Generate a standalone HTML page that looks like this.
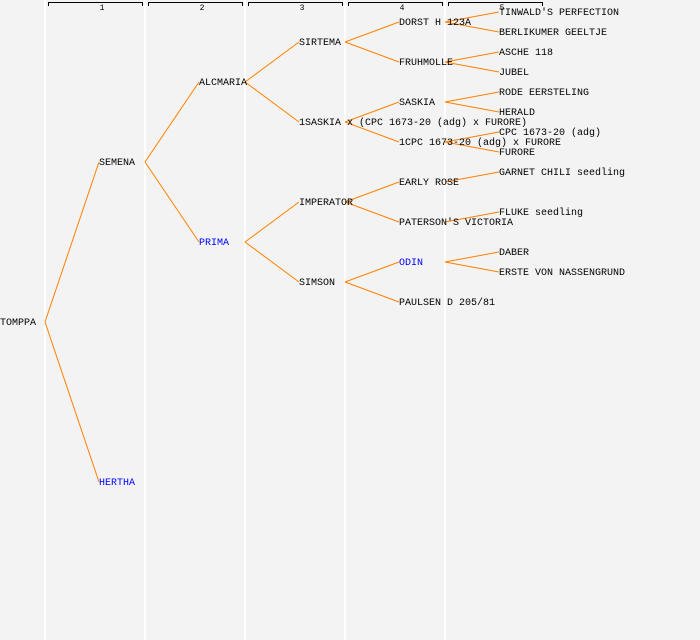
<!DOCTYPE html>
<html><head><meta charset="utf-8"><style>
html,body{margin:0;padding:0;background:#f3f3f3;}
svg{display:block;}
text{font-family:"Liberation Mono",monospace;font-size:10px;fill:#000;}
.b{fill:#0000ff;}
.n{font-size:8px;}
line,polyline{stroke:#ff8000;stroke-width:1;fill:none;}
.w{stroke:#fff;stroke-width:2;}
.k{stroke:#000;}
</style></head><body>
<svg width="700" height="640" xmlns="http://www.w3.org/2000/svg">
<rect width="700" height="640" fill="#f3f3f3"/>
<line class="w" x1="45" y1="0" x2="45" y2="640"/>
<line class="w" x1="145" y1="0" x2="145" y2="640"/>
<line class="w" x1="245" y1="0" x2="245" y2="640"/>
<line class="w" x1="345" y1="0" x2="345" y2="640"/>
<line class="w" x1="445" y1="0" x2="445" y2="640"/>
<polyline class="k" points="48.5,6 48.5,2.5 142.5,2.5 142.5,6"/>
<polyline class="k" points="148.5,6 148.5,2.5 242.5,2.5 242.5,6"/>
<polyline class="k" points="248.5,6 248.5,2.5 342.5,2.5 342.5,6"/>
<polyline class="k" points="348.5,6 348.5,2.5 442.5,2.5 442.5,6"/>
<polyline class="k" points="448.5,6 448.5,2.5 542.5,2.5 542.5,6"/>
<text class="n" x="102" y="10" text-anchor="middle">1</text>
<text class="n" x="202" y="10" text-anchor="middle">2</text>
<text class="n" x="302" y="10" text-anchor="middle">3</text>
<text class="n" x="402" y="10" text-anchor="middle">4</text>
<text class="n" x="502" y="10" text-anchor="middle">5</text>
<line x1="45" y1="322" x2="99" y2="162"/><line x1="45" y1="322" x2="99" y2="482"/>
<line x1="145" y1="162" x2="199" y2="82"/><line x1="145" y1="162" x2="199" y2="242"/>
<line x1="245" y1="82" x2="299" y2="42"/><line x1="245" y1="82" x2="299" y2="122"/>
<line x1="245" y1="242" x2="299" y2="202"/><line x1="245" y1="242" x2="299" y2="282"/>
<line x1="345" y1="42" x2="399" y2="22"/><line x1="345" y1="42" x2="399" y2="62"/>
<line x1="345" y1="122" x2="399" y2="102"/><line x1="345" y1="122" x2="399" y2="142"/>
<line x1="345" y1="202" x2="399" y2="182"/><line x1="345" y1="202" x2="399" y2="222"/>
<line x1="345" y1="282" x2="399" y2="262"/><line x1="345" y1="282" x2="399" y2="302"/>
<line x1="445" y1="22" x2="499" y2="12"/><line x1="445" y1="22" x2="499" y2="32"/>
<line x1="445" y1="62" x2="499" y2="52"/><line x1="445" y1="62" x2="499" y2="72"/>
<line x1="445" y1="102" x2="499" y2="92"/><line x1="445" y1="102" x2="499" y2="112"/>
<line x1="445" y1="142" x2="499" y2="132"/><line x1="445" y1="142" x2="499" y2="152"/>
<line x1="445" y1="182" x2="499" y2="172"/>
<line x1="445" y1="222" x2="499" y2="212"/>
<line x1="445" y1="262" x2="499" y2="252"/><line x1="445" y1="262" x2="499" y2="272"/>
<text x="0" y="325">TOMPPA</text>
<text x="99" y="165">SEMENA</text>
<text x="99" y="485" class="b">HERTHA</text>
<text x="199" y="85">ALCMARIA</text>
<text x="199" y="245" class="b">PRIMA</text>
<text x="299" y="45">SIRTEMA</text>
<text x="299" y="125">1SASKIA x (CPC 1673-20 (adg) x FURORE)</text>
<text x="299" y="205">IMPERATOR</text>
<text x="299" y="285">SIMSON</text>
<text x="399" y="25">DORST H 123A</text>
<text x="399" y="65">FRUHMOLLE</text>
<text x="399" y="105">SASKIA</text>
<text x="399" y="145">1CPC 1673-20 (adg) x FURORE</text>
<text x="399" y="185">EARLY ROSE</text>
<text x="399" y="225">PATERSON'S VICTORIA</text>
<text x="399" y="265" class="b">ODIN</text>
<text x="399" y="305">PAULSEN D 205/81</text>
<text x="499" y="15">TINWALD'S PERFECTION</text>
<text x="499" y="35">BERLIKUMER GEELTJE</text>
<text x="499" y="55">ASCHE 118</text>
<text x="499" y="75">JUBEL</text>
<text x="499" y="95">RODE EERSTELING</text>
<text x="499" y="115">HERALD</text>
<text x="499" y="135">CPC 1673-20 (adg)</text>
<text x="499" y="155">FURORE</text>
<text x="499" y="175">GARNET CHILI seedling</text>
<text x="499" y="215">FLUKE seedling</text>
<text x="499" y="255">DABER</text>
<text x="499" y="275">ERSTE VON NASSENGRUND</text>
</svg>
</body></html>
